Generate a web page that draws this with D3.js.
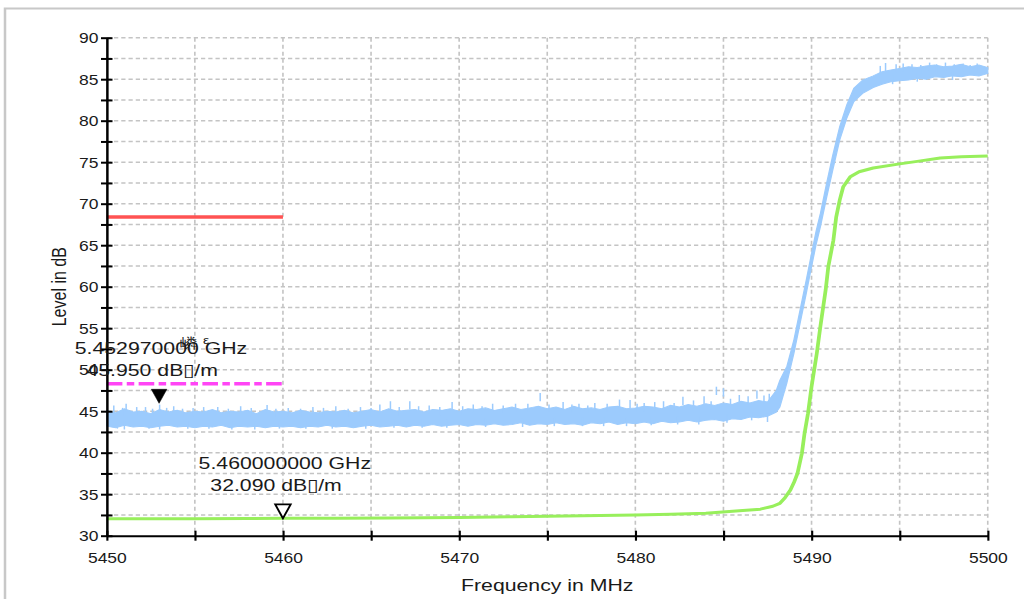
<!DOCTYPE html>
<html>
<head>
<meta charset="utf-8">
<script src="https://cdn.jsdelivr.net/npm/d3@7"></script>
<style>
  html, body { margin: 0; padding: 0; background: #fff; }
  svg { display: block; }
  text { font-family: "Liberation Sans", Arial, sans-serif; fill: #1a1a1a; }
</style>
</head>
<body>
<svg id="chart" width="1024" height="599"></svg>
<script>
// ---------- axis ranges and tick labels ----------
const freqDomain = [5450, 5500];          // MHz
const levelDomain = [30, 90];             // dB
const freqTickLabels = [5450, 5460, 5470, 5480, 5490, 5500];
const levelTickLabels = [30, 35, 40, 45, 50, 55, 60, 65, 70, 75, 80, 85, 90];

// ---------- peak trace (blue): noise floor envelope, 0.5 MHz grid 5450 .. 5487.5 ----------
const floorFreq = d3.range(5450, 5488, 0.5);
const floorHigh = [
  45.1, 44.8, 45.3, 44.9, 45.0, 44.7, 45.2, 44.9, 45.1, 44.8,
  45.0, 44.9, 45.2, 44.8, 45.0, 44.9, 45.1, 44.7, 45.2, 44.9,
  45.0, 44.8, 45.1, 44.9, 44.8, 45.0, 44.9, 45.1, 44.8, 45.0,
  45.2, 44.9, 45.3, 45.0, 45.1, 45.2, 44.9, 45.2, 45.1, 45.3,
  45.0, 45.3, 45.2, 45.4, 45.1, 45.3, 45.5, 45.2, 45.4, 45.6,
  45.3, 45.5, 45.2, 45.6, 45.3, 45.4, 45.2, 45.5, 45.6, 45.3,
  45.4, 45.6, 45.5, 45.3, 45.7, 45.5, 45.8, 45.6, 45.9, 45.7,
  46.0, 45.8, 46.2, 46.0, 46.3, 46.1
];
const floorLow = [
  43.2, 43.0, 43.3, 43.1, 43.2, 43.0, 43.2, 43.3, 43.1, 43.2,
  43.0, 43.2, 43.1, 43.3, 43.0, 43.2, 43.1, 43.2, 43.0, 43.2,
  43.1, 43.2, 43.0, 43.2, 43.1, 43.3, 43.1, 43.2, 43.0, 43.2,
  43.3, 43.1, 43.2, 43.3, 43.1, 43.3, 43.2, 43.4, 43.2, 43.3,
  43.4, 43.2, 43.4, 43.3, 43.5, 43.3, 43.4, 43.6, 43.3, 43.5,
  43.4, 43.6, 43.4, 43.5, 43.3, 43.6, 43.5, 43.7, 43.4, 43.6,
  43.5, 43.7, 43.5, 43.8, 43.6, 43.7, 43.9, 43.7, 43.9, 44.0,
  43.8, 44.1, 44.0, 44.3, 44.2, 44.4
];

// ---------- peak trace (blue): band edge and in-band plateau ----------
const riseFreq = [5488.0, 5488.2, 5488.6, 5489.0, 5489.35, 5489.7, 5490.0, 5490.25, 5490.5, 5490.86,
                  5491.2, 5491.6, 5492.0, 5492.4, 5492.9, 5493.5, 5494.0, 5494.5, 5495.0, 5495.5,
                  5496.0, 5496.5, 5497.0, 5497.5, 5498.0, 5498.5, 5499.0, 5499.5, 5500.0];
const riseLow  = [44.9, 45.5, 48.4, 52.0, 55.6, 59.2, 62.4, 65.0, 67.2, 70.8,
                  74.0, 77.7, 80.3, 82.3, 83.3, 84.0, 84.4, 84.7, 84.8, 84.9,
                  85.1, 85.0, 85.3, 85.2, 85.4, 85.3, 85.5, 85.4, 85.7];
const riseHigh = [47.5, 48.7, 50.4, 53.6, 57.2, 60.8, 64.0, 66.6, 68.8, 72.5,
                  75.8, 79.3, 81.9, 83.9, 84.9, 85.4, 85.9, 86.1, 86.3, 86.5,
                  86.4, 86.6, 86.7, 86.5, 86.6, 86.8, 86.5, 86.7, 86.4];

// ---------- peak trace (blue): isolated spikes [MHz, dB] ----------
const spikeUp = [
  [5450.4, 45.7], [5450.9, 45.4], [5451.1, 45.9], [5451.7, 45.5], [5452.2, 45.5], [5452.6, 45.3],
  [5453.0, 45.8], [5453.4, 45.4], [5453.8, 45.6], [5454.3, 45.3], [5454.9, 45.4], [5455.5, 45.5],
  [5456.3, 45.5], [5456.9, 45.3], [5457.6, 45.6], [5458.2, 45.4], [5459.1, 45.75], [5459.6, 45.3],
  [5460.3, 45.4], [5461.0, 45.3], [5461.7, 45.5], [5462.3, 45.4], [5463.0, 45.6], [5463.7, 45.3],
  [5464.4, 45.5], [5465.0, 45.4], [5465.5, 45.8], [5466.1, 46.2], [5466.6, 45.5], [5467.2, 46.2],
  [5467.7, 45.6], [5468.3, 45.7], [5468.9, 45.5], [5469.6, 46.1], [5470.2, 45.6], [5470.8, 45.8],
  [5471.3, 45.6], [5471.9, 45.9], [5472.5, 45.7], [5473.2, 45.9], [5473.9, 45.9], [5474.6, 47.2],
  [5475.1, 45.8], [5475.9, 46.1], [5476.4, 45.8], [5476.8, 45.9], [5477.3, 45.7], [5477.7, 46.0],
  [5478.4, 45.9], [5479.1, 46.4], [5479.7, 46.35], [5480.1, 45.9], [5480.5, 46.0], [5481.1, 46.1],
  [5481.6, 46.2], [5482.2, 46.0], [5482.7, 46.75], [5483.3, 46.3], [5483.9, 46.8], [5484.3, 46.2],
  [5484.6, 47.95], [5485.0, 47.75], [5485.4, 46.5], [5485.9, 46.95], [5486.4, 46.8], [5486.9, 47.5],
  [5487.3, 46.9], [5487.6, 47.1],
  [5493.9, 86.6], [5494.2, 86.95], [5494.8, 86.8], [5495.2, 86.9], [5495.7, 86.8], [5496.2, 86.7],
  [5496.7, 87.0], [5497.1, 86.8], [5497.6, 87.0], [5498.1, 86.8], [5498.6, 86.9], [5499.0, 86.7],
  [5499.4, 86.9]
];
const spikeDown = [
  [5450.6, 42.9], [5451.0, 42.8], [5452.4, 42.9], [5453.0, 42.8], [5454.6, 42.9], [5455.8, 42.9],
  [5457.1, 42.8], [5458.4, 42.8], [5459.8, 42.9], [5461.3, 42.9], [5462.8, 42.9], [5464.7, 42.9],
  [5466.3, 43.0], [5467.9, 43.0], [5469.3, 43.0], [5471.5, 43.1], [5473.6, 43.1], [5475.4, 43.2],
  [5477.0, 43.2], [5478.2, 43.2], [5479.5, 43.2], [5480.9, 43.3], [5482.4, 43.4], [5483.6, 43.4],
  [5485.2, 43.6], [5486.6, 43.9], [5487.5, 43.7],
  [5494.6, 84.4], [5496.0, 84.7], [5498.0, 84.9]
];

// ---------- average trace (green) ----------
const avgFreq  = [5450, 5452, 5455, 5458, 5460, 5463, 5466, 5470, 5473, 5476, 5480, 5482, 5484,
                  5485.9, 5487.1, 5487.8, 5488.2, 5488.5, 5488.8, 5489.0, 5489.2, 5489.45, 5489.6,
                  5489.8, 5490.0, 5490.3, 5490.5, 5490.8, 5490.95, 5491.24, 5491.4, 5491.6, 5491.8,
                  5492.2, 5492.7, 5493.5, 5495.0, 5496.0, 5497.3, 5498.5, 5500];
const avgLevel = [32.05, 32.03, 32.05, 32.06, 32.09, 32.1, 32.14, 32.2, 32.28, 32.38, 32.5, 32.58, 32.7,
                  33.0, 33.2, 33.55, 33.9, 34.6, 35.5, 36.4, 37.5, 39.9, 42.3,
                  44.75, 47.95, 52.0, 55.2, 59.6, 62.4, 65.6, 68.4, 70.45, 72.05,
                  73.25, 73.85, 74.3, 74.8, 75.1, 75.5, 75.65, 75.75];

// ---------- limit lines ----------
const limitSpan = [5450, 5460];
const peakLimit = 68.4;
const avgLimit = 48.3;

// ---------- markers ----------
const markerFreqGHz = [5.45297, 5.46];
const markerLevel = [45.95, 32.09];
const markerFilled = [true, false];

// ---------- layout (drawn on a horizontally stretched canvas) ----------
const W = 819.2, H = 599;
const svg = d3.select("#chart")
  .attr("viewBox", `0 0 ${W} ${H}`)
  .attr("preserveAspectRatio", "none");

const plot = { left: 85.4, right: 790.2, top: 37.7, bottom: 535.7 };
const x = d3.scaleLinear().domain(freqDomain).range([plot.left, plot.right]);
const y = d3.scaleLinear().domain(levelDomain).range([plot.bottom, plot.top]);

// outer frame (left and top edges visible)
svg.append("path")
  .attr("d", `M4,${H} V8.5 H${W}`)
  .attr("fill", "none")
  .attr("stroke", "#c8c8c8")
  .attr("stroke-width", 2);

// grid
const yGrid = d3.range(32.5, 90.01, 2.5);
const xGrid = d3.range(5455, 5500.01, 5);
const grid = svg.append("g").attr("stroke", "#c4c4c4").attr("stroke-width", 1.5).attr("fill", "none");
grid.selectAll("line.h").data(yGrid).join("line")
  .attr("x1", plot.left).attr("x2", plot.right)
  .attr("y1", d => y(d)).attr("y2", d => y(d))
  .attr("stroke-dasharray", "3.4,2.4");
grid.selectAll("line.v").data(xGrid).join("line")
  .attr("x1", d => x(d)).attr("x2", d => x(d))
  .attr("y1", plot.top).attr("y2", plot.bottom)
  .attr("stroke-width", 1.3)
  .attr("stroke-dasharray", "4,3");

// peak trace band
const blue = "#9ccbfd";
const bandData = floorFreq.map((f, i) => ({ f, lo: floorLow[i], hi: floorHigh[i] }))
  .concat(riseFreq.map((f, i) => ({ f, lo: riseLow[i], hi: riseHigh[i] })));
svg.append("path")
  .datum(bandData)
  .attr("d", d3.area().x(d => x(d.f)).y0(d => y(d.lo)).y1(d => y(d.hi)))
  .attr("fill", blue)
  .attr("stroke", blue)
  .attr("stroke-width", 1);

const spikes = svg.append("g").attr("stroke", blue).attr("stroke-width", 1.2);
spikes.selectAll("line.up").data(spikeUp).join("line")
  .attr("x1", d => x(d[0])).attr("x2", d => x(d[0]))
  .attr("y1", d => y(d[1] - 1.0)).attr("y2", d => y(d[1]));
spikes.selectAll("line.down").data(spikeDown).join("line")
  .attr("x1", d => x(d[0])).attr("x2", d => x(d[0]))
  .attr("y1", d => y(d[1] + 1.0)).attr("y2", d => y(d[1]));

// average trace
svg.append("path")
  .datum(avgFreq.map((f, i) => [f, avgLevel[i]]))
  .attr("d", d3.line().x(d => x(d[0])).y(d => y(d[1])))
  .attr("fill", "none")
  .attr("stroke", "#98ef5c")
  .attr("stroke-width", 3)
  .attr("stroke-linejoin", "round");

// limit lines
svg.append("line")
  .attr("x1", x(limitSpan[0])).attr("x2", x(limitSpan[1]))
  .attr("y1", y(peakLimit)).attr("y2", y(peakLimit))
  .attr("stroke", "#ff5353").attr("stroke-width", 3.5);
svg.append("line")
  .attr("x1", x(limitSpan[0])).attr("x2", x(limitSpan[1]))
  .attr("y1", y(avgLimit)).attr("y2", y(avgLimit))
  .attr("stroke", "#ff45f5").attr("stroke-width", 3.5)
  .attr("stroke-dasharray", "12.5,3.5,6,3.5");

// y axis
const yAxis = d3.axisLeft(y)
  .tickValues(d3.range(30, 90.01, 2.5))
  .tickFormat(d => levelTickLabels.includes(d) ? d : "")
  .tickSizeOuter(0);
const gy = svg.append("g").attr("transform", `translate(${plot.left},0)`).call(yAxis);
gy.select(".domain").attr("stroke", "#000").attr("stroke-width", 2);
gy.selectAll(".tick line").attr("x1", -4.6).attr("x2", 4.6).attr("stroke", "#000").attr("stroke-width", 2);
gy.selectAll(".tick text").attr("x", -6.6).attr("dy", "0.36em")
  .attr("font-size", 14).attr("fill", "#1a1a1a")
  .attr("font-family", "'Liberation Sans', Arial, sans-serif");

// x axis
const xAxis = d3.axisBottom(x)
  .tickValues(d3.range(5450, 5500.01, 5))
  .tickFormat(d => freqTickLabels.includes(d) ? d : "")
  .tickSizeOuter(0);
const gx = svg.append("g").attr("transform", `translate(0,${plot.bottom})`).call(xAxis);
gx.select(".domain").attr("stroke", "#000").attr("stroke-width", 2);
gx.selectAll(".tick line").attr("y1", -5).attr("y2", 5).attr("stroke", "#000").attr("stroke-width", 1.7);
gx.selectAll(".tick text").attr("y", 17.5).attr("dy", "0.71em")
  .attr("font-size", 14).attr("fill", "#1a1a1a")
  .attr("font-family", "'Liberation Sans', Arial, sans-serif");

// axis titles
svg.append("text")
  .attr("x", (plot.left + plot.right) / 2)
  .attr("y", 591)
  .attr("text-anchor", "middle")
  .attr("font-size", 17)
  .text("Frequency in MHz");
svg.append("text")
  .attr("transform", `translate(53,${(plot.top + plot.bottom) / 2}) rotate(-90)`)
  .attr("text-anchor", "middle")
  .attr("font-size", 16)
  .text("Level in dB");

// markers
const markers = svg.append("g");
markerFreqGHz.forEach((fg, i) => {
  const mx = x(fg * 1000), my = y(markerLevel[i]);
  markers.append("path")
    .attr("d", `M${mx},${my} L${mx - 6.2},${my - 14} L${mx + 6.2},${my - 14} Z`)
    .attr("fill", markerFilled[i] ? "#000" : "#fff")
    .attr("stroke", "#000")
    .attr("stroke-width", markerFilled[i] ? 0.5 : 1.6)
    .attr("stroke-linejoin", "miter");
  markers.append("text")
    .attr("x", mx + 1.5).attr("y", my - 49.3)
    .attr("text-anchor", "middle")
    .attr("font-size", 17)
    .text(`${fg.toFixed(9)} GHz`);
  markers.append("text")
    .attr("x", mx - 5.5).attr("y", my - 27)
    .attr("text-anchor", "middle")
    .attr("font-size", 17)
    .text(`${markerLevel[i].toFixed(3)} dB\u25AF/m`);
});

// marker tag above the first marker label
markers.append("text")
  .attr("x", 144).attr("y", 348)
  .attr("font-size", 14)
  .attr("font-family", "'Noto Sans CJK SC', sans-serif")
  .text("嶙");
markers.append("text")
  .attr("x", 162.5).attr("y", 344)
  .attr("font-size", 11)
  .text("ε");
</script>
</body>
</html>
